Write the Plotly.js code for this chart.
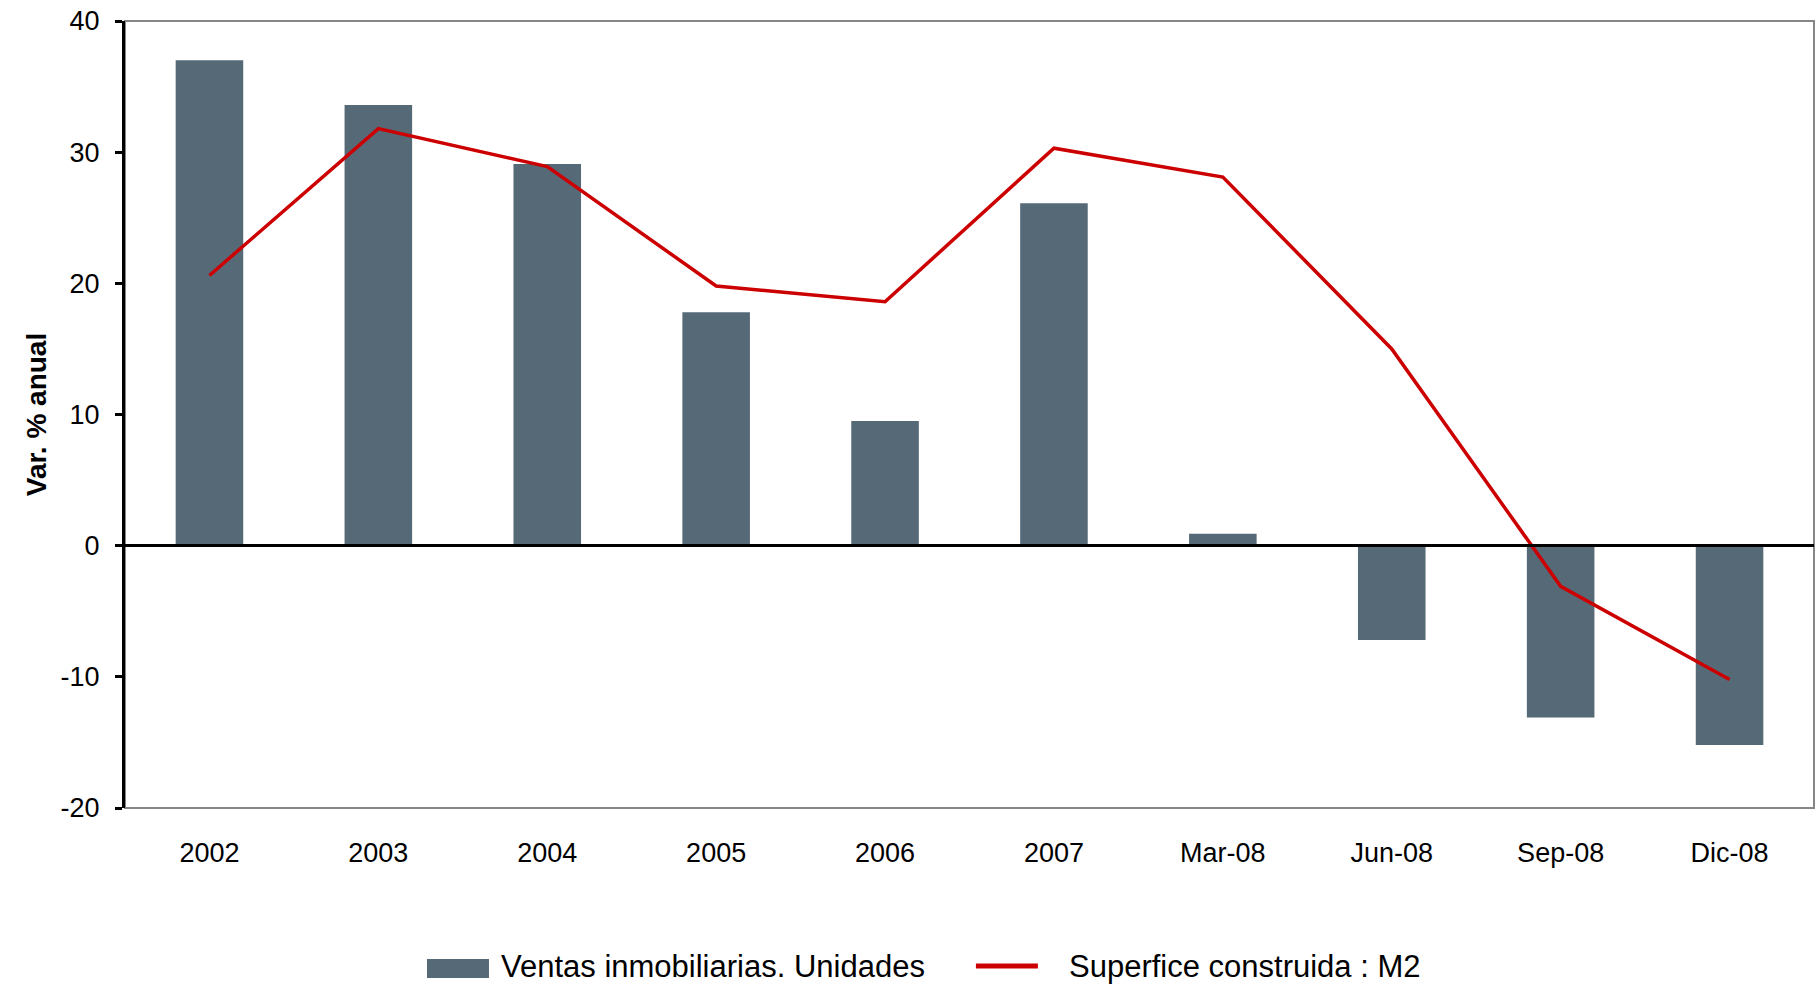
<!DOCTYPE html>
<html>
<head>
<meta charset="utf-8">
<script src="https://cdn.plot.ly/plotly-3.0.1.min.js"></script>
<style>
  html, body { margin: 0; padding: 0; background: #fff; }
  #chart { width: 1818px; height: 986px; }
</style>
</head>
<body>
<div id="chart"></div>
<script>
"use strict";
var periodos = ['2002', '2003', '2004', '2005', '2006', '2007', 'Mar-08', 'Jun-08', 'Sep-08', 'Dic-08'];
var ventas = [37.0, 33.6, 29.1, 17.8, 9.5, 26.1, 0.9, -7.2, -13.1, -15.2];
var superficie = [20.6, 31.8, 28.9, 19.8, 18.6, 30.3, 28.1, 15.0, -3.1, -10.2];
var yTicks = [-20, -10, 0, 10, 20, 30, 40];
var yTickText = ['-20', '-10', '0', '10', '20', '30', '40'];
var nombreVentas = 'Ventas inmobiliarias. Unidades';
var nombreSuperficie = 'Superfice construida : M2';

var colorBarra = '#566977';
var colorLinea = '#cc0000';
var fuente = 'Liberation Sans, Arial, sans-serif';

var barras = {
  x: periodos,
  y: ventas,
  name: nombreVentas,
  type: 'bar',
  marker: {color: colorBarra},
  showlegend: false
};
var linea = {
  x: periodos,
  y: superficie,
  name: nombreSuperficie,
  type: 'scatter',
  mode: 'lines',
  line: {color: colorLinea, width: 3.5},
  showlegend: false
};

// leyenda dibujada a mano (muestras anchas como en el original)
var shapes = [
  {type: 'rect', xref: 'paper', yref: 'paper', x0: 0, x1: 1, y0: 0, y1: 1,
   line: {color: '#868686', width: 2}, layer: 'below'},
  {type: 'rect', xref: 'paper', yref: 'paper', x0: 0.1788, x1: 0.2155, y0: -0.216, y1: -0.1919,
   fillcolor: colorBarra, line: {width: 0}},
  {type: 'line', xref: 'paper', yref: 'paper', x0: 0.5038, x1: 0.5405, y0: -0.2008, y1: -0.2008,
   line: {color: colorLinea, width: 5}}
];
var notas = [
  {xref: 'paper', yref: 'paper', x: 0.2214, y: -0.2008, xanchor: 'left', yanchor: 'middle',
   text: nombreVentas, showarrow: false, font: {family: fuente, size: 31, color: '#000'}},
  {xref: 'paper', yref: 'paper', x: 0.5577, y: -0.2008, xanchor: 'left', yanchor: 'middle',
   text: nombreSuperficie, showarrow: false, font: {family: fuente, size: 31, color: '#000'}}
];

var format = {
  width: 1818,
  height: 986,
  margin: {l: 125, r: 4, t: 21, b: 178},
  paper_bgcolor: '#fff',
  plot_bgcolor: '#fff',
  font: {family: fuente, color: '#000'},
  bargap: 0.6,
  xaxis: {
    type: 'category',
    showgrid: false,
    zeroline: false,
    showline: false,
    ticks: '',
    ticklabelstandoff: 26,
    tickfont: {family: fuente, size: 27, color: '#000'},
    fixedrange: true
  },
  yaxis: {
    range: [-20, 40],
    tickmode: 'array',
    tickvals: yTicks,
    ticktext: yTickText,
    showgrid: false,
    zeroline: true,
    zerolinecolor: '#000',
    zerolinewidth: 3,
    zerolinelayer: 'above traces',
    showline: true,
    linecolor: '#000',
    linewidth: 3,
    ticks: 'outside',
    ticklen: 7,
    tickwidth: 3,
    tickcolor: '#000',
    ticklabelstandoff: 10,
    tickfont: {family: fuente, size: 27, color: '#000'},
    title: {text: 'Var. % anual', standoff: 6,
            font: {family: fuente, size: 28, color: '#000', weight: 'bold'}},
    fixedrange: true
  },
  shapes: shapes,
  annotations: notas
};

Plotly.newPlot('chart', [barras, linea], format, {displayModeBar: false, staticPlot: true});
</script>
</body>
</html>
